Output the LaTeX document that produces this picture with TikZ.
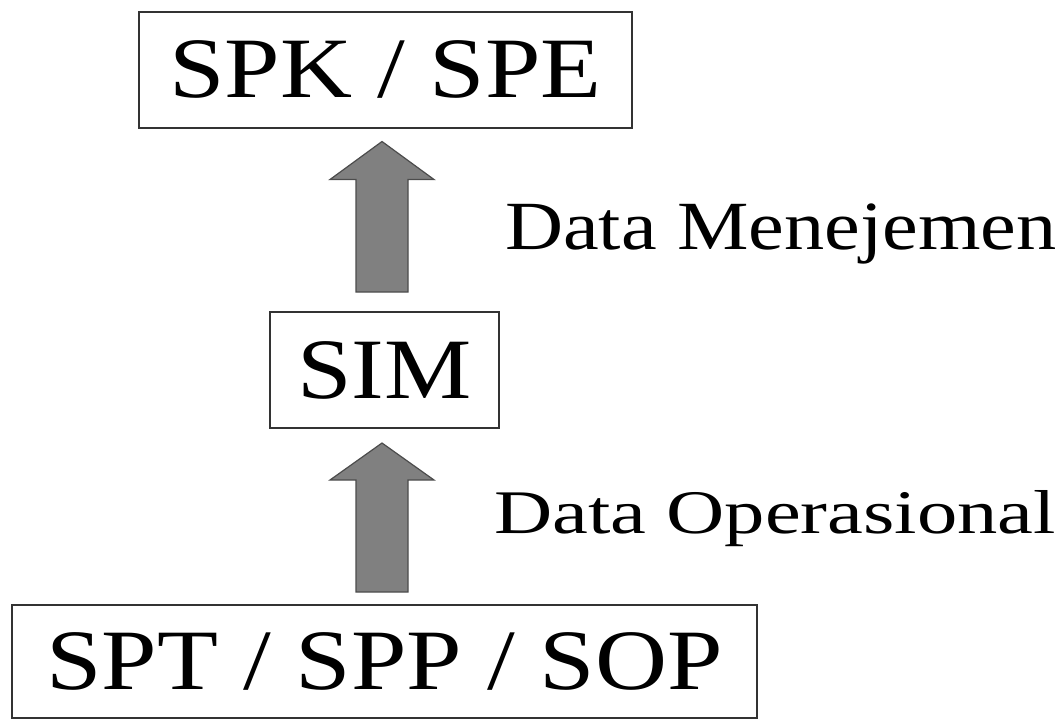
\documentclass[tikz,border=0pt]{standalone}
\usepackage{fontspec}
\setmainfont{Liberation Serif}
\usepackage{graphicx}
\usetikzlibrary{calc}
\newcommand{\wide}[2]{\scalebox{#1}[1]{#2}}

\begin{document}
\begin{tikzpicture}[x=1pt,y=-1pt,
	box/.style={draw=black!80,line width=2pt,inner sep=0pt,font=\fontsize{86}{90}\selectfont},
	fatarrow/.style={draw=black!70,line width=1.2pt,fill=black!50,line join=miter},
	lbl/.style={anchor=base west,inner sep=0pt}]
\useasboundingbox (0,0) rectangle (1061,721);
%boxes
\node[box,minimum width=493,minimum height=116] (spk) at (385.5,69.5) {\wide{1.16}{SPK / SPE}};
\node[box,minimum width=229,minimum height=116] (sim) at (384.5,370) {\wide{1.14}{SIM}};
\node[box,minimum width=745,minimum height=113] (spt) at (384.5,661.5) {\wide{1.16}{SPT / SPP / SOP}};
%labels
\node[lbl,font=\fontsize{69}{72}\selectfont] (dm) at (505,249) {\wide{1.165}{Data Menejemen}};
\node[lbl,font=\fontsize{62}{66}\selectfont] (dop) at (494,533) {\wide{1.30}{Data Operasional}};
%arrows
\path ($(sim.north)+(-2.5,-19)$) coordinate (u0) ($(spk.south)+(-3.5,13)$) coordinate (u1);
\draw[fatarrow] ($(u0)+(-26,0)$) -- ($(u1)+(-26,38)$) -- ($(u1)+(-52,38)$) -- (u1)
	-- ($(u1)+(52,38)$) -- ($(u1)+(26,38)$) -- ($(u0)+(26,0)$) -- cycle;
\path ($(spt.north)+(-2.5,-12)$) coordinate (l0) ($(sim.south)+(-2.5,14)$) coordinate (l1);
\draw[fatarrow] ($(l0)+(-26,0)$) -- ($(l1)+(-26,37)$) -- ($(l1)+(-52,37)$) -- (l1)
	-- ($(l1)+(52,37)$) -- ($(l1)+(26,37)$) -- ($(l0)+(26,0)$) -- cycle;
\end{tikzpicture}
\end{document}
